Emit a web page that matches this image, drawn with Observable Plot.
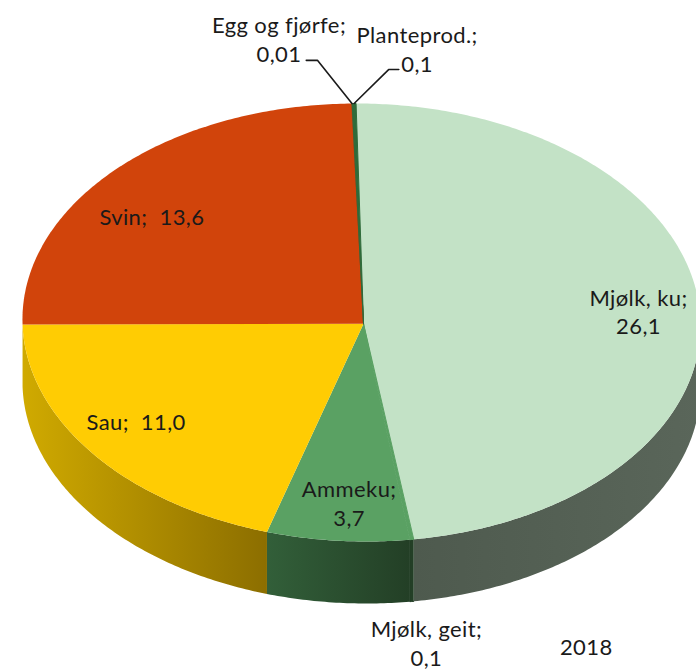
<!DOCTYPE html>
<html lang="no">
<head>
<meta charset="utf-8">
<style>html,body{margin:0;padding:0;background:#fff}svg{display:block}svg text{letter-spacing:.4px}</style>
<script src="https://cdn.jsdelivr.net/npm/d3@7"></script>
<script src="https://cdn.jsdelivr.net/npm/@observablehq/plot@0.6"></script>
</head>
<body>
<div id="chart"></div>
<script>
// Data (share of production, clockwise from the top of the pie)
const categories = ["Mjølk, ku", "Mjølk, geit", "Ammeku", "Sau", "Svin", "Egg og fjørfe", "Planteprod."];
const values = [26.1, 0.1, 3.7, 11.0, 13.6, 0.01, 0.1];
const valueLabels = ["26,1", "0,1", "3,7", "11,0", "13,6", "0,01", "0,1"];
const yearLabel = "2018";

// Styles
const topColors = ["#c3e2c6", "#5aa163", "#5aa163", "#ffcc03", "#d1440b", "#8a4a20", "#2f6b3a"];
const wallFills = ["url(#wall0)", "#233f26", "url(#wall2)", "url(#wall3)"];
const gradients = [
  ["wall0", "#4e5a4e", "#5a665a"],
  ["wall2", "#325f39", "#233f26"],
  ["wall3", "#d0aa00", "#8c6e00"]
];

// Layout: the x/y scales map pie units (rim radius = 1) onto the picture
const W = 696, H = 670;
const cx = 361, cy = 322, rx = 339, ry = 219;
const wallDepth = 62 / ry;
const tip = [0.006, 0.006];
const rotation = -0.002;
const shear = 0.014;   // the pie's slight perspective lean

const slices = d3.pie().sort(null).value((d) => d)(values).map((p, i) => ({
  i, name: categories[i], a0: p.startAngle + rotation, a1: p.endAngle + rotation
}));
const rim = (a, r = 1, dy = 0) => {
  const y = -r * Math.cos(a);
  return {x: r * Math.sin(a) + shear * y, y: y + dy};
};
const arc = (a0, a1, dy = 0) => {
  const n = Math.max(2, Math.ceil((a1 - a0) * 90));
  return d3.range(n + 1).map((k) => rim(a0 + (a1 - a0) * k / n, 1, dy));
};
const sector = (s) => [{x: tip[0], y: tip[1]}, ...arc(s.a0, s.a1), {x: tip[0], y: tip[1]}];
const wall = (s) => {
  const a0 = Math.max(s.a0, Math.PI / 2), a1 = Math.min(s.a1, 3 * Math.PI / 2);
  return a1 > a0 ? [...arc(a0, a1), ...arc(a0, a1, wallDepth).reverse()] : null;
};
const mid = (s) => (s.a0 + s.a1) / 2;

const defs = () => {
  const ns = "http://www.w3.org/2000/svg";
  const d = document.createElementNS(ns, "defs");
  for (const [id, c0, c1] of gradients) {
    const g = document.createElementNS(ns, "linearGradient");
    g.setAttribute("id", id);
    g.setAttribute("x1", "0"); g.setAttribute("x2", "1");
    g.setAttribute("y1", "0"); g.setAttribute("y2", "0");
    [[0, c0], [1, c1]].forEach(([o, c]) => {
      const st = document.createElementNS(ns, "stop");
      st.setAttribute("offset", o); st.setAttribute("stop-color", c);
      g.appendChild(st);
    });
    d.appendChild(g);
  }
  return d;
};

const font = {fontFamily: "Lato, 'Open Sans', sans-serif", fill: "#1a1a1a", lineHeight: 1.3};
const label = (i, text, r, dx, dy, size = 22) => Plot.text([rim(mid(slices[i]), r)], {
  x: "x", y: "y", text: () => text, dx, dy, fontSize: size, textAnchor: "middle", ...font
});

const leader = (i, elbow, end) => Plot.line(
  [rim(mid(slices[i])), {x: elbow[0], y: elbow[1]}, {x: end[0], y: end[1]}],
  {x: "x", y: "y", stroke: "#1a1a1a", strokeWidth: 1.6}
);

const thin = (i) => i === 1 || i >= 5;  // hairline slices get an outline so no seam shows

const plot = Plot.plot({
  width: W, height: H,
  margin: 0,
  x: {domain: [-cx / rx, (W - cx) / rx], range: [0, W], axis: null},
  y: {domain: [-cy / ry, (H - cy) / ry], range: [0, H], axis: null},
  marks: [
    defs,
    ...slices.slice(0, 4).map((s, i) => Plot.line(wall(s) ?? [], {
      x: "x", y: "y", fill: wallFills[i], stroke: thin(i) ? wallFills[i] : "none", strokeWidth: thin(i) ? 1 : 0
    })),
    ...slices.map((s) => Plot.line(sector(s), {
      x: "x", y: "y", fill: topColors[s.i], stroke: thin(s.i) ? topColors[s.i] : "none", strokeWidth: thin(s.i) ? 1 : 0
    })),
    leader(5, [-0.13, -1.197], [-0.163, -1.197]),
    leader(6, [0.08, -1.155], [0.11, -1.155]),
    label(0, `${categories[0]};\n${valueLabels[0]}`, 0.82, 0, 1),
    label(1, `${categories[1]};\n${valueLabels[1]}`, 1.47, -9, 1),
    label(2, `${categories[2]};\n${valueLabels[2]}`, 0.82, 7, 1),
    label(3, `${categories[3]};\u00a0\u00a0${valueLabels[3]}`, 0.82, -5, -9),
    label(4, `${categories[4]};\u00a0\u00a0${valueLabels[4]}`, 0.8, -13, 16),
    label(5, `${categories[5]};\n${valueLabels[5]}`, 1.0, -73, -65),
    label(6, `${categories[6]};\n${valueLabels[6]}`, 1.0, 63, -55),
    Plot.text([{x: 0.663, y: 1.475}], {x: "x", y: "y", text: () => yearLabel, fontSize: 22, textAnchor: "middle", ...font})
  ]
});
document.getElementById("chart").append(plot);
</script>
</body>
</html>
